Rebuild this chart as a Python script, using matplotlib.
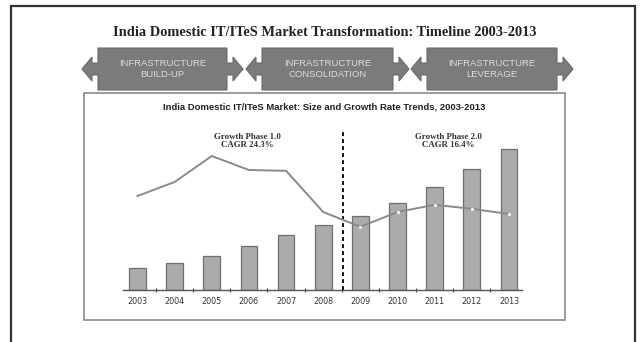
import numpy as np
import matplotlib
matplotlib.use('Agg')
import matplotlib.pyplot as plt
from matplotlib.patches import Rectangle, Polygon

# market size (bars) and year-on-year growth rate in % (line)
years = ['2003', '2004', '2005', '2006', '2007', '2008',
         '2009', '2010', '2011', '2012', '2013']
market_size = [22, 27, 34, 44, 55, 65, 74, 87, 103, 121, 141]
growth_rate = [23.5, 27.0, 33.5, 30.0, 29.8, 19.5, 15.8, 19.5, 21.3, 20.3, 19.0]

stages = ['INFRASTRUCTURE\nBUILD-UP', 'INFRASTRUCTURE\nCONSOLIDATION',
          'INFRASTRUCTURE\nLEVERAGE']
phase_labels = ['Growth Phase 1.0\nCAGR 24.3%', 'Growth Phase 2.0\nCAGR 16.4%']

W, H = 641, 342
fig = plt.figure(figsize=(W / 100, H / 100), dpi=100)


def fx(px):
    return px / W


def fy(py):
    return 1 - py / H


# outer frame (runs off the bottom of the page)
fig.patches.append(Rectangle((fx(11), fy(360)), fx(635) - fx(11), fy(6) - fy(360),
                             transform=fig.transFigure, fill=False,
                             edgecolor='#333333', lw=1.6))

fig.text(fx(325), fy(33), 'India Domestic IT/ITeS Market Transformation: Timeline 2003-2013',
         family='Liberation Serif', weight='bold', fontsize=10.4, color='#222222',
         ha='center', va='center')

# timeline boxes with double arrows
boxes = [(98, 227), (262, 393), (427, 557)]
top, bot, mid = 48, 90, 69
for (x0, x1), label in zip(boxes, stages):
    pts = [(x0, top), (x1, top), (x1, mid - 6), (x1 + 6, mid - 6), (x1 + 6, mid - 12),
           (x1 + 16, mid), (x1 + 6, mid + 12), (x1 + 6, mid + 6), (x1, mid + 6),
           (x1, bot), (x0, bot), (x0, mid + 6), (x0 - 6, mid + 6), (x0 - 6, mid + 12),
           (x0 - 16, mid), (x0 - 6, mid - 12), (x0 - 6, mid - 6), (x0, mid - 6)]
    fig.patches.append(Polygon([(fx(a), fy(b)) for a, b in pts], closed=True,
                               transform=fig.transFigure, facecolor='#7b7b7b',
                               edgecolor='#6a6a6a', lw=0.8))
    fig.text(fx((x0 + x1) / 2), fy(69), label, family='Liberation Sans', fontsize=6.8,
             color='#dcdcdc', ha='center', va='center', linespacing=1.15)

# inner chart panel
fig.patches.append(Rectangle((fx(84), fy(320)), fx(565) - fx(84), fy(93) - fy(320),
                             transform=fig.transFigure, fill=False,
                             edgecolor='#8a8a8a', lw=1.2))
fig.text(fx(324), fy(107), 'India Domestic IT/ITeS Market: Size and Growth Rate Trends, 2003-2013',
         family='Liberation Sans', weight='bold', fontsize=6.8, color='#222222',
         ha='center', va='center')

# axes: bar centres at 137.5px, 37.15px apart, baseline at 290px
ax = fig.add_axes([fx(122.6), fy(290), fx(522) - fx(122.6), fy(130) - fy(290)])
x = np.arange(len(years))
ax.bar(x, market_size, width=0.45, color='#ababab', edgecolor='#6f6f6f', lw=0.9, zorder=2)
ax.set_xlim(-0.4, 10.35)
ax.set_ylim(0, 160)
ax.set_xticks(x)
ax.set_xticklabels(years, family='Liberation Sans Narrow', fontsize=5.8, color='#333333')
ax.set_xticks(x[:-1] + 0.5, minor=True)
ax.tick_params(axis='x', which='major', length=0, pad=5)
ax.tick_params(axis='x', which='minor', length=3.5, direction='inout', color='#444444', width=0.8)
ax.set_yticks([])
for s in ['top', 'left', 'right']:
    ax.spines[s].set_visible(False)
ax.spines['bottom'].set_color('#555555')
ax.spines['bottom'].set_linewidth(1.0)
ax.patch.set_alpha(0)

# phase divider
ax.plot([5.53, 5.53], [0, 158], color='#111111', lw=1.4, ls=(0, (2, 1.6)),
        clip_on=False, zorder=4)

for xt, txt in zip([2.97, 8.36], phase_labels):
    ax.text(xt, 149, txt, family='Liberation Serif', weight='bold', fontsize=6.4,
            color='#333333', ha='center', va='center', linespacing=1.15)

ax2 = ax.twinx()
ax2.plot(x, growth_rate, color='#8a8a8a', lw=1.4, zorder=3)
ax2.plot(x[6:], growth_rate[6:], ls='none', marker='o', ms=2.4,
         mfc='#f2f2f2', mec='none', zorder=4)
ax2.set_ylim(0, 40)
ax2.set_yticks([])
for s in ax2.spines.values():
    s.set_visible(False)

fig.savefig('out.png', dpi=100, facecolor='white')
